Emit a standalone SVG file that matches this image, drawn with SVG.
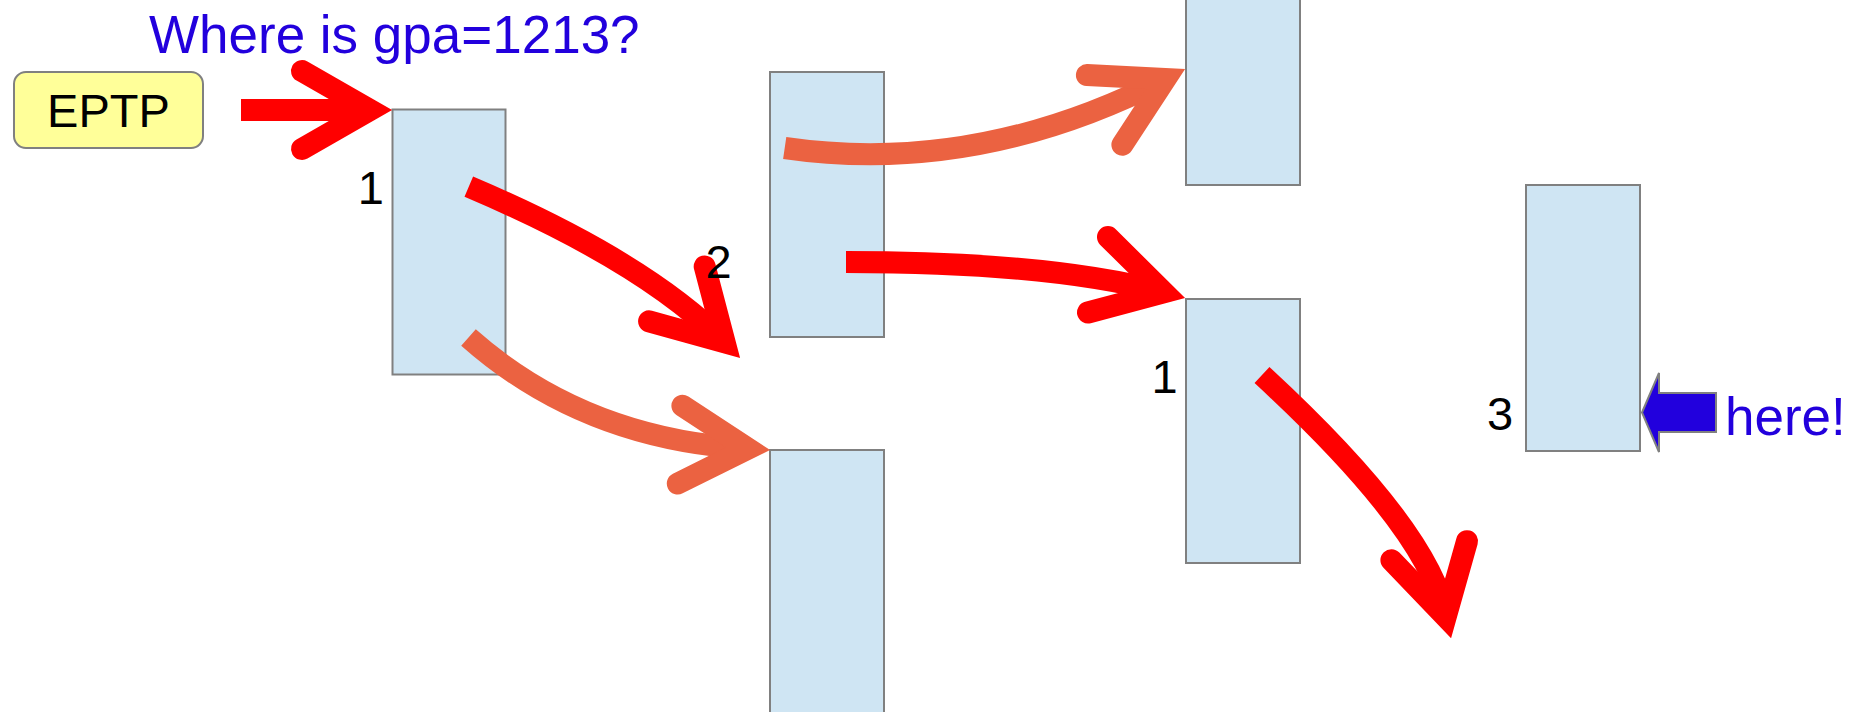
<svg xmlns="http://www.w3.org/2000/svg" width="1870" height="712" viewBox="0 0 1870 712">
<style>
.slot{fill:#cfe5f3;stroke:#808080;stroke-width:2}
.eptp{fill:#ffff99;stroke:#808080;stroke-width:2}
.red{stroke:#ff0000}
.org{stroke:#eb6241}
.shaft{fill:none;stroke-width:22;stroke-linecap:butt}
.head{fill:none;stroke-width:22;stroke-linecap:round;stroke-linejoin:miter;stroke-miterlimit:10}
.lbl{font-family:"Liberation Sans",Arial,sans-serif;font-size:47px;fill:#000000}
.blue{font-family:"Liberation Sans",Arial,sans-serif;font-size:53px;fill:#2200dd}
.here{fill:#2200dd;stroke:#808080;stroke-width:2}
</style>
<rect width="1870" height="712" fill="#ffffff"/>
<text class="blue" x="149" y="53">Where is gpa=1213?</text>
<g id="eptp">
<rect class="eptp" x="14" y="72" width="189" height="76" rx="12"/>
<text class="lbl" x="108.5" y="127" text-anchor="middle" font-size="48">EPTP</text>
</g>
<g id="table1"><rect class="slot" x="392.5" y="109.5" width="113" height="265"/></g>
<g id="table2"><rect class="slot" x="770" y="72" width="114" height="265"/></g>
<g id="table3"><rect class="slot" x="770" y="450" width="114" height="265"/></g>
<g id="table4"><rect class="slot" x="1186" y="-80" width="114" height="265"/></g>
<g id="table5"><rect class="slot" x="1186" y="299" width="114" height="264"/></g>
<g id="table6"><rect class="slot" x="1526" y="185" width="114" height="266"/></g>
<g id="connectors">
<path class="shaft red" d="M241,110 L370,110"/>
<polyline class="head red" points="302,71 370,110 302,149"/>
<path class="shaft red" d="M468.8,186.7 Q644,261 724.6,342.3"/>
<polyline class="head red" points="704.7,266.5 724.6,342.3 649.1,321.3"/>
<path class="shaft org" d="M468.5,337.5 Q583,439 748,448.7"/>
<polyline class="head org" points="682.4,405.7 748,448.7 677.8,483.5"/>
<path class="shaft org" d="M784.7,148 Q976,176 1165.4,79"/>
<polyline class="head org" points="1086.9,75.1 1165.4,79 1122.4,144.7"/>
<path class="shaft red" d="M846,262 Q1050,262 1163.7,292.3"/>
<polyline class="head red" points="1108,237.1 1163.7,292.3 1088,312.5"/>
<path class="shaft red" d="M1262,375 Q1430,530 1445.7,616.7"/>
<polyline class="head red" points="1467,541.2 1445.7,616.7 1391.4,560.2"/>
<polygon class="here" points="1642,412.5 1659,373 1659,393 1716,393 1716,432 1659,432 1659,452"/>
</g>
<g id="labels">
<text class="lbl" x="384" y="204" text-anchor="end">1</text>
<text class="lbl" x="705.6" y="278">2</text>
<text class="lbl" x="1177.6" y="393" text-anchor="end">1</text>
<text class="lbl" x="1487" y="430">3</text>
<text class="blue" x="1725" y="435">here!</text>
</g>
</svg>
